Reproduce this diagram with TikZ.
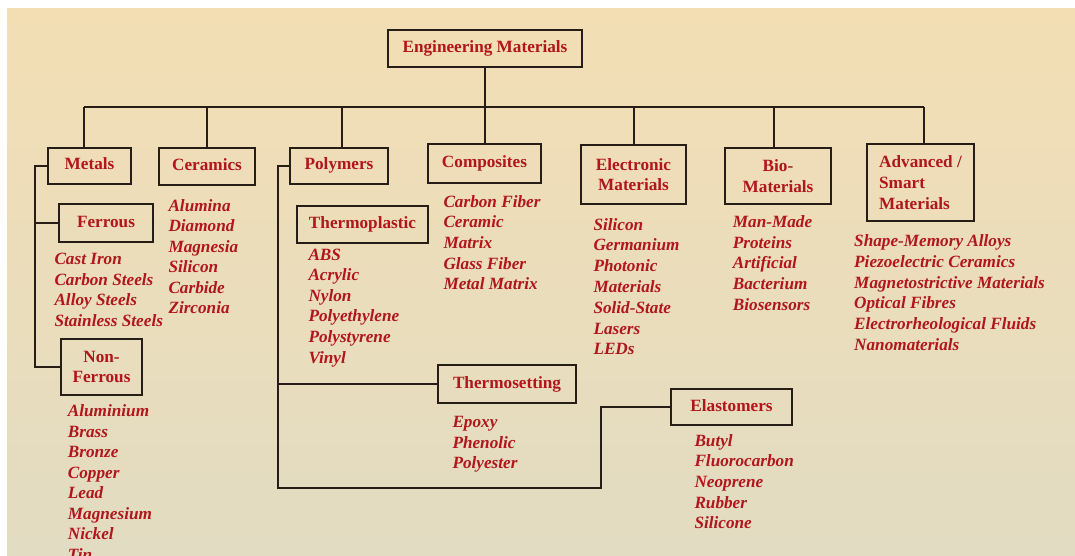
\documentclass[tikz,border=0pt]{standalone}
\usepackage{fontspec}
\setmainfont{Liberation Serif}
\definecolor{redc}{RGB}{176,22,28}
\definecolor{linec}{RGB}{38,30,22}
\definecolor{bgtop}{RGB}{243,222,180}
\definecolor{bgbot}{RGB}{226,220,194}
\tikzset{
  box/.style={draw=linec, line width=1.9pt, text=redc, inner sep=0pt,
    font=\bfseries\fontsize{17.2}{20.7}\selectfont, text height=12pt, text depth=4pt},
  mbox/.style={draw=linec, line width=1.9pt, text=redc, inner sep=0pt,
    font=\bfseries\fontsize{17.2}{20.7}\selectfont},
  item/.style={anchor=base west, text=redc, inner sep=0pt,
    font=\bfseries\itshape\fontsize{17.2}{20.7}\selectfont},
  conn/.style={draw=linec, line width=1.9pt}
}
\newcommand{\mklist}[5]{%
  \foreach \t [count=\i from 0] in {#5}
    \node[item] (#1\i) at (#2, #3+#4*\i) {\t};}
\begin{document}
\begin{tikzpicture}[x=1pt,y=-1pt]
\useasboundingbox (0,0) rectangle (1075,556);
\clip (0,0) rectangle (1075,556);
\fill[white] (0,0) rectangle (1075,556);
\fill[top color=bgtop, bottom color=bgbot] (7,9) rectangle (1075,556);

% main boxes
\node[box, minimum width=194pt, minimum height=37pt] (title) at (485,48.5) {Engineering Materials};
\node[box, minimum width=83pt, minimum height=36pt] (metals) at (89.5,166) {Metals};
\node[box, minimum width=96pt, minimum height=37pt] (ceramics) at (207,166.5) {Ceramics};
\node[box, minimum width=98pt, minimum height=36pt] (polymers) at (339,166) {Polymers};
\node[box, minimum width=113pt, minimum height=39pt] (composites) at (484.5,163.5) {Composites};
\node[mbox, align=center, minimum width=105pt, minimum height=59pt] (electronic) at (633.5,174.5) {Electronic\\Materials};
\node[mbox, align=center, minimum width=106pt, minimum height=56pt] (bio) at (778,176) {Bio-\\Materials};
\node[mbox, align=left, minimum width=107pt, minimum height=77pt] (advanced) at (920.5,182.5) {Advanced /\\Smart\\Materials};

% sub boxes
\node[box, minimum width=94pt, minimum height=38pt] (ferrous) at (106,223) {Ferrous};
\node[mbox, align=center, minimum width=81pt, minimum height=56pt] (nonferrous) at (101.5,367) {Non-\\Ferrous};
\node[box, minimum width=131pt, minimum height=37pt] (thermoplastic) at (362.5,224.5) {Thermoplastic};
\node[box, minimum width=138pt, minimum height=38pt] (thermosetting) at (507,384) {Thermosetting};
\node[box, minimum width=121pt, minimum height=36pt] (elastomers) at (731.5,407) {Elastomers};

% bus and drops
\coordinate (bus) at (485,107);
\coordinate (dm) at (84,107);
\coordinate (dc) at (207,107);
\coordinate (dp) at (342,107);
\coordinate (de) at (634,107);
\coordinate (db) at (774,107);
\coordinate (da) at (924,107);
\draw[conn] (title.south) -- (bus);
\draw[conn] (dm) -- (da);
\draw[conn] (dm) -- (dm |- metals.north);
\draw[conn] (dc) -- (dc |- ceramics.north);
\draw[conn] (dp) -- (dp |- polymers.north);
\draw[conn] (bus) -- (bus |- composites.north);
\draw[conn] (de) -- (de |- electronic.north);
\draw[conn] (db) -- (db |- bio.north);
\draw[conn] (da) -- (da |- advanced.north);

% metals branch
\coordinate (mx) at (35,0);
\draw[conn] (metals.west) -- (metals.west -| mx) -- (nonferrous.west -| mx) -- (nonferrous.west);
\draw[conn] (ferrous.west -| mx) -- (ferrous.west);

% polymers branch
\coordinate (pb) at (278,488);
\coordinate (ek) at (601,488);
\draw[conn] (polymers.west) -- (polymers.west -| pb) -- (pb) -- (ek) -- (ek |- elastomers.west) -- (elastomers.west);
\draw[conn] (thermosetting.west -| pb) -- (thermosetting.west);

% lists
\mklist{fe}{54.3}{264.3}{20.8}{Cast Iron,Carbon Steels,Alloy Steels,Stainless Steels}
\mklist{ce}{168.3}{211}{20.5}{Alumina,Diamond,Magnesia,Silicon,Carbide,Zirconia}
\mklist{nf}{67.7}{416.7}{20.5}{Aluminium,Brass,Bronze,Copper,Lead,Magnesium,Nickel,Tin}
\mklist{tp}{308.3}{260}{20.6}{ABS,Acrylic,Nylon,Polyethylene,Polystyrene,Vinyl}
\mklist{co}{443.3}{207.3}{20.6}{Carbon Fiber,Ceramic,Matrix,Glass Fiber,Metal Matrix}
\mklist{ts}{452.3}{427.7}{20.3}{Epoxy,Phenolic,Polyester}
\mklist{el}{694.3}{446}{20.7}{Butyl,Fluorocarbon,Neoprene,Rubber,Silicone}
\mklist{em}{593.3}{230}{20.8}{Silicon,Germanium,Photonic,Materials,Solid-State,Lasers,LEDs}
\mklist{bm}{732.7}{227.3}{20.7}{Man-Made,Proteins,Artificial,Bacterium,Biosensors}
\mklist{am}{854}{246.7}{20.7}{Shape-Memory Alloys,Piezoelectric Ceramics,Magnetostrictive Materials,Optical Fibres,Electrorheological Fluids,Nanomaterials}
\end{tikzpicture}
\end{document}
